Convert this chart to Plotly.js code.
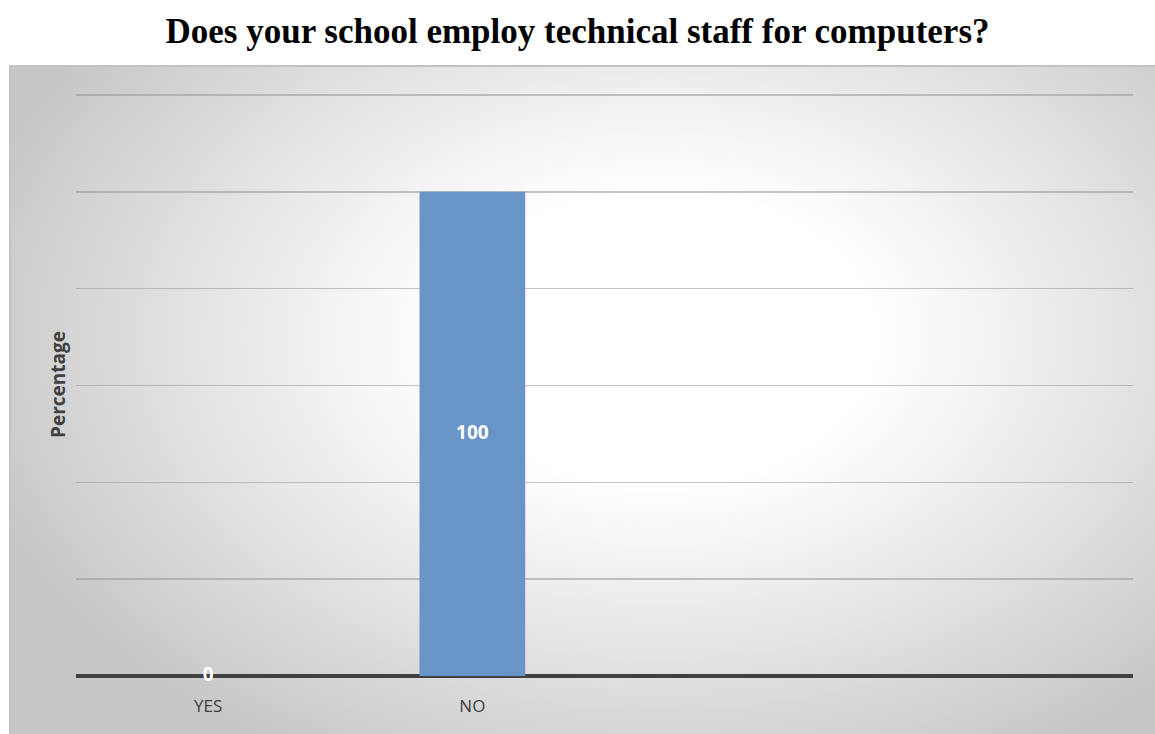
<!DOCTYPE html>
<html>
<head>
<meta charset="utf-8">
<script src="https://cdn.plot.ly/plotly-3.0.1.min.js"></script>
<style>
  html, body { margin: 0; padding: 0; background: #ffffff; }
  #wrap { position: relative; width: 1155px; height: 734px; overflow: hidden; }
  #bg {
    position: absolute; left: 9px; top: 65px; width: 1160px; height: 680px;
    box-sizing: border-box;
    border-left: 2px solid #c2c2c2; border-top: 2px solid #c2c2c2;
    background: radial-gradient(ellipse 62% 72% at 56% 40%, #ffffff 0%, #ffffff 30%, #e6e6e6 62%, #c6c6c6 100%);
  }
  #chart { position: absolute; left: 0; top: 0; width: 1155px; height: 734px; }
</style>
</head>
<body>
<div id="wrap">
  <div id="bg"></div>
  <div id="chart"></div>
</div>
<script>
const categories = ['YES', 'NO'];
const percentages = [0, 100];
const yTicks = [0, 20, 40, 60, 80, 100, 120];

const labelY = percentages.map(v => v / 2);
const labelText = percentages.map(v => String(v));

const traces = [
  {
    type: 'bar',
    x: categories,
    y: percentages,
    marker: { color: '#6894c7', line: { width: 0 } },
    hoverinfo: 'x+y',
    showlegend: false
  },
  {
    type: 'scatter',
    mode: 'text',
    x: categories,
    y: labelY,
    text: labelText,
    textposition: 'middle center',
    textfont: { family: 'Open Sans, Liberation Sans, sans-serif', size: 19, color: '#ffffff', weight: 'bold' },
    hoverinfo: 'skip',
    showlegend: false,
    cliponaxis: false
  }
];

const layout = {
  width: 1155,
  height: 734,
  paper_bgcolor: 'rgba(0,0,0,0)',
  plot_bgcolor: 'rgba(0,0,0,0)',
  margin: { l: 76, r: 22, t: 93, b: 58 },
  bargap: 0.6,
  title: {
    text: '<b>Does your school employ technical staff for computers?</b>',
    font: { family: 'Liberation Serif, Times New Roman, serif', size: 35, color: '#000000' },
    x: 0.5, xanchor: 'center',
    y: 1 - 31 / 734, yanchor: 'middle', yref: 'container'
  },
  xaxis: {
    type: 'category',
    range: [-0.5, 3.5],
    showgrid: false,
    zeroline: false,
    showline: false,
    ticks: 'outside',
    ticklen: 15,
    tickcolor: 'rgba(0,0,0,0)',
    tickfont: { family: 'Open Sans, Liberation Sans, sans-serif', size: 17, color: '#404040' },
    fixedrange: true
  },
  yaxis: {
    range: [0, 120.4],
    tickvals: yTicks,
    showticklabels: false,
    showgrid: true,
    gridcolor: 'rgba(150,150,150,0.55)',
    gridwidth: 1.5,
    zeroline: true,
    zerolinecolor: '#404040',
    zerolinewidth: 4,
    showline: false,
    ticks: '',
    title: {
      text: '<b>Percentage</b>',
      font: { family: 'Open Sans, Liberation Sans, sans-serif', size: 19, color: '#404040' },
      standoff: 4
    },
    fixedrange: true
  }
};

Plotly.newPlot('chart', traces, layout, { displayModeBar: false, staticPlot: true });
</script>
</body>
</html>
